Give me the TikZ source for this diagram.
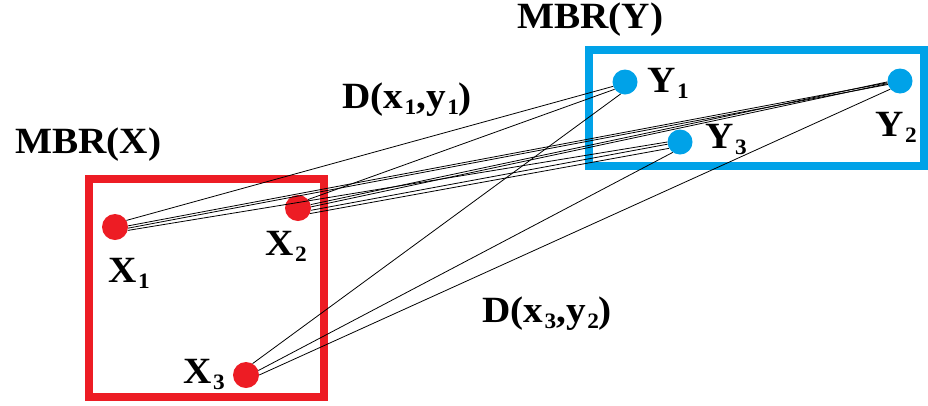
\documentclass[tikz,border=0pt]{standalone}
\usepackage{fontspec}
\setmainfont{Liberation Serif}[FakeStretch=1.06]
\definecolor{mred}{HTML}{ED1C24}
\definecolor{mblue}{HTML}{00A2E8}
\newcommand{\lsub}[1]{\kern1.5pt\raisebox{-6pt}{\fontsize{22}{24}\selectfont #1}}
\begin{document}
\begin{tikzpicture}[x=1pt,y=-1pt,
  xpt/.style={circle,fill=mred,inner sep=0pt,minimum size=26pt},
  ypt/.style={circle,fill=mblue,inner sep=0pt,minimum size=25pt},
  lab/.style={anchor=base west,inner sep=0pt,font=\fontsize{37}{40}\selectfont\bfseries},
  conn/.style={draw=black,line width=0.8pt}]
\useasboundingbox (0,0) rectangle (928,405);
% boxes
\draw[mred,line width=8pt] (89,179) rectangle (324,397);
\draw[mblue,line width=8pt] (589,50) rectangle (924,166);
% points
\node[xpt] (x1) at (115,227) {};
\node[xpt] (x2) at (298,208) {};
\node[xpt] (x3) at (246,375) {};
\node[ypt] (y1) at (625,82) {};
\node[ypt] (y2) at (900,81) {};
\node[ypt] (y3) at (680,142) {};
% connectors
\draw[conn] (x1.30) -- (y1.200);
\draw[conn] (x1.5) -- (y2.188);
\draw[conn] (x1.-5) -- (y2.196);
\draw[conn] (x1.-15) -- (y3.180);
\draw[conn] (x2.40) -- (y1.215);
\draw[conn] (x2.15) -- (y2.184);
\draw[conn] (x2.5) -- (y2.192);
\draw[conn] (x2.-10) -- (y3.190);
\draw[conn] (x2.-25) -- (y3.210);
\draw[conn] (x3.60) -- (y1.250);
\draw[conn] (x3.20) -- (y3.235);
\draw[conn] (x3.0) -- (y2.220);
% labels
\node[lab] (mbry) at (517,28) {MBR(Y)};
\node[lab] (mbrx) at (15,153) {MBR(X)};
\node[lab] (d11) at (342,108) {D(x\lsub{1},y\lsub{1})};
\node[lab] (d32) at (482,322) {D(x\lsub{3},y\lsub{2})};
\node[lab] (lx1) at (108,282) {X\lsub{1}};
\node[lab] (lx2) at (265,255) {X\lsub{2}};
\node[lab] (lx3) at (183,383) {X\lsub{3}};
\node[lab] (ly1) at (647,92) {Y\lsub{1}};
\node[lab] (ly2) at (875,136) {Y\lsub{2}};
\node[lab] (ly3) at (705,148) {Y\lsub{3}};
\end{tikzpicture}
\end{document}
